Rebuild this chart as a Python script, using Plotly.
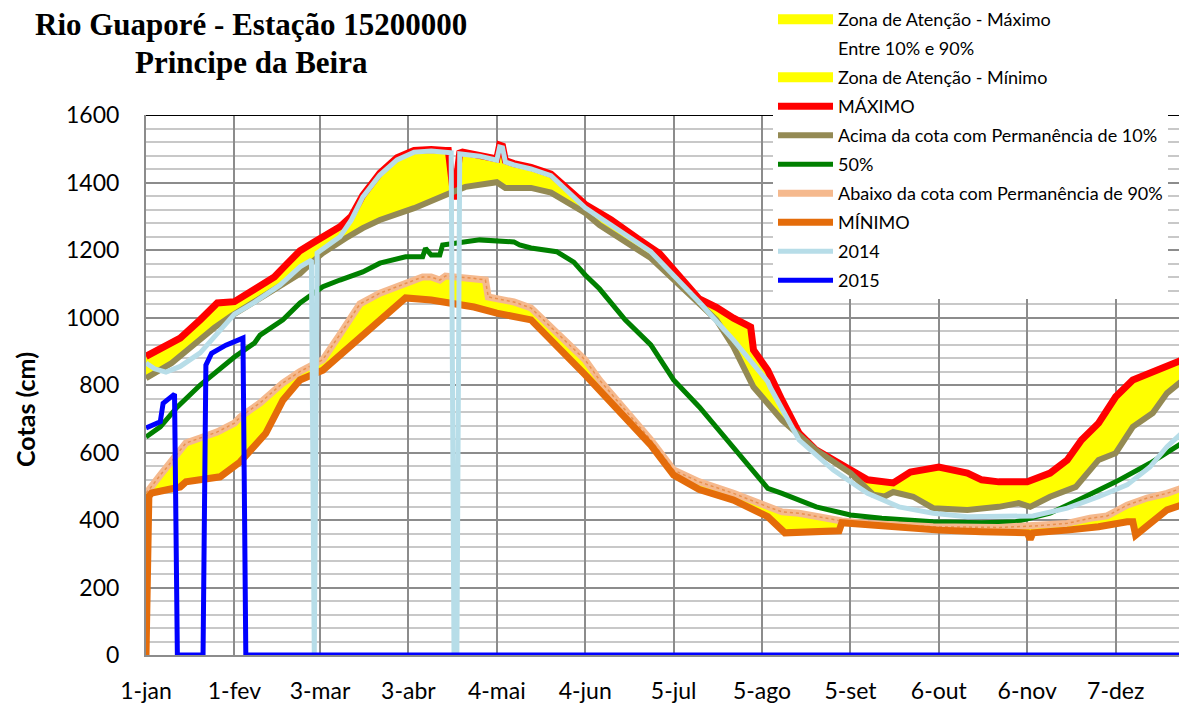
import plotly.graph_objects as go

# ---------------- data (day of year, cota in cm) ----------------
tick_days = [1, 32, 62, 93, 124, 155, 186, 217, 248, 279, 310, 341]
tick_labels = ["1-jan", "1-fev", "3-mar", "3-abr", "4-mai", "4-jun", "5-jul",
               "5-ago", "5-set", "6-out", "6-nov", "7-dez"]

max_days = [1, 13, 20, 26, 32, 39, 46, 50, 55, 60, 69, 73, 77, 83, 89, 95, 101, 106, 107,
            109, 111, 112, 118, 124, 125, 126, 127, 130, 136, 143, 155, 164, 174, 181,
            195, 201, 207, 213, 214, 219, 224, 228, 230, 236, 242, 248, 254, 263, 269,
            279, 289, 294, 300, 310, 318, 324, 329, 335, 341, 347, 359, 366]
max_vals = [885, 939, 993, 1043, 1047, 1081, 1120, 1155, 1198, 1224, 1269, 1300, 1362, 1428,
            1473, 1495, 1498, 1495, 1495, 1350, 1487, 1490, 1482, 1470, 1511, 1508, 1465,
            1456, 1445, 1425, 1335, 1290, 1230, 1190, 1055, 1030, 998, 972, 904, 844, 755,
            687, 657, 607, 578, 548, 519, 510, 542, 557, 539, 519, 513, 513, 539, 578, 637,
            687, 765, 815, 859, 880]

p10_days = [1, 5, 10, 15, 20, 25, 31, 38, 45, 50, 55, 60, 63, 71, 77, 83, 95, 106, 113,
            124, 127, 136, 143, 155, 160, 178, 195, 201, 207, 214, 224, 236, 248, 256, 260,
            263, 270, 277, 289, 300, 307, 311, 318, 327, 335, 341, 347, 354, 359, 366]
p10_vals = [820, 840, 865, 900, 935, 970, 1005, 1040, 1075, 1100, 1130, 1170, 1191, 1235,
            1265, 1289, 1324, 1363, 1387, 1401, 1384, 1384, 1370, 1310, 1274, 1176, 1040,
            993, 913, 794, 696, 607, 539, 475, 470, 483, 469, 435, 430, 439, 450, 439, 469,
            498, 578, 598, 676, 717, 776, 824]

p50_days = [1, 6, 12, 20, 32, 39, 41, 49, 55, 63, 69, 77, 83, 92, 98, 99, 101, 104, 105,
            109, 118, 130, 132, 136, 145, 151, 155, 160, 169, 178, 186, 195, 207, 219, 224,
            236, 248, 259, 277, 294, 306, 318, 329, 341, 353, 366]
p50_vals = [646, 676, 735, 800, 883, 924, 948, 993, 1043, 1091, 1111, 1135, 1161, 1180,
            1180, 1205, 1185, 1185, 1215, 1220, 1230, 1224, 1215, 1206, 1195, 1164, 1126,
            1085, 993, 919, 815, 735, 617, 494, 479, 439, 415, 405, 395, 392, 395, 420, 464,
            513, 568, 637]

p90_days = [1, 2, 6, 9, 13, 15, 20, 26, 32, 34, 41, 49, 55, 63, 69, 76, 83, 92, 98, 101,
            104, 106, 115, 120, 121, 130, 136, 155, 160, 178, 186, 195, 207, 219, 224, 230,
            242, 245, 254, 277, 300, 312, 324, 332, 338, 345, 352, 359, 366]
p90_vals = [480, 489, 533, 563, 607, 628, 643, 661, 687, 705, 747, 806, 840, 875, 950,
            1040, 1072, 1102, 1120, 1120, 1111, 1123, 1117, 1111, 1061, 1046, 1028, 874, 815,
            637, 548, 513, 479, 439, 424, 420, 400, 397, 390, 380, 378, 382, 390, 405, 412,
            444, 465, 479, 500]

min_days = [1, 2, 3, 13, 15, 25, 27, 34, 37, 43, 49, 55, 63, 73, 83, 92, 101, 106, 116,
            124, 136, 155, 160, 178, 186, 195, 207, 219, 225, 236, 244, 245, 254, 265, 279,
            294, 310, 311, 312, 324, 335, 345, 347, 348, 359, 366]
min_vals = [0, 470, 480, 498, 513, 528, 528, 572, 601, 657, 755, 815, 844, 919, 993, 1058,
            1052, 1046, 1031, 1013, 993, 830, 785, 622, 533, 490, 459, 410, 362, 365, 368,
            392, 385, 376, 370, 365, 362, 343, 362, 370, 380, 395, 395, 355, 430, 450]

y2014_days = [1, 4, 8, 13, 20, 32, 39, 48, 55, 59, 60, 61, 69, 73, 77, 83, 89, 95, 101,
              106, 108, 109, 110, 111, 118, 124, 125, 126, 127, 130, 136, 143, 155, 178,
              195, 207, 217, 219, 220, 230, 242, 254, 265, 277, 289, 300, 312, 324, 335,
              345, 353, 359, 366]
y2014_vals = [865, 848, 838, 855, 895, 1010, 1045, 1096, 1150, 1170, 0, 1191, 1239, 1289,
              1357, 1422, 1467, 1490, 1493, 1490, 1488, 0, 0, 1485, 1478, 1466, 1505, 1503,
              1461, 1452, 1440, 1420, 1325, 1195, 1045, 933, 830, 810, 791, 637, 548, 479,
              439, 420, 410, 410, 412, 435, 469, 504, 557, 617, 672]

y2015_days = [1, 6, 7, 10, 11, 12, 21, 22, 24, 29, 35, 36, 366]
y2015_vals = [673, 691, 746, 768, 773, 0, 0, 859, 894, 918, 939, 0, 0]

title_lines = ["Rio Guaporé - Estação 15200000", "Principe da Beira"]

for a, b in [(max_days, max_vals), (p10_days, p10_vals), (p50_days, p50_vals),
             (p90_days, p90_vals), (min_days, min_vals), (y2014_days, y2014_vals),
             (y2015_days, y2015_vals)]:
    assert len(a) == len(b), (len(a), len(b))

# ---------------- styles ----------------
YELLOW = "#FFFF00"
RED = "#FF0000"
OLIVE = "#948A54"
GREEN = "#008000"
P90C = "#F5B98E"
P90DOT = "#E8914F"
MINC = "#E46C0A"
LBLUE = "#B7DDE8"
BLUE = "#0000FF"

# page body has an 8px margin: figure is sized/positioned to compensate
FIG_W, FIG_H = 1179, 695
L, T, B = 138, 107, 48
PW = FIG_W - L
PH = FIG_H - T - B


def px_x(x):
    return (x - 8 - L) / PW


def px_y(y):
    return (FIG_H - B - (y - 8)) / PH


fig = go.Figure()

# legend-only entries for the zones
fig.add_trace(go.Scatter(x=[None], y=[None], mode="lines", name="Zona de Atenção - Máximo",
                         line=dict(color=YELLOW, width=11), legendgroup="a"))
fig.add_trace(go.Scatter(x=[None], y=[None], mode="lines", name="Entre 10% e 90%",
                         line=dict(color="rgba(0,0,0,0)", width=1), legendgroup="b"))
fig.add_trace(go.Scatter(x=[None], y=[None], mode="lines", name="Zona de Atenção - Mínimo",
                         line=dict(color=YELLOW, width=11), legendgroup="c"))

# filled zones
fig.add_trace(go.Scatter(x=p10_days, y=p10_vals, mode="lines", line=dict(width=0),
                         showlegend=False, hoverinfo="skip", legendgroup="a"))
fig.add_trace(go.Scatter(x=max_days, y=max_vals, mode="lines", line=dict(width=0),
                         fill="tonexty", fillcolor=YELLOW, showlegend=False,
                         hoverinfo="skip", legendgroup="a"))
fig.add_trace(go.Scatter(x=min_days, y=min_vals, mode="lines", line=dict(width=0),
                         showlegend=False, hoverinfo="skip", legendgroup="c"))
fig.add_trace(go.Scatter(x=p90_days, y=p90_vals, mode="lines", line=dict(width=0),
                         fill="tonexty", fillcolor=YELLOW, showlegend=False,
                         hoverinfo="skip", legendgroup="c"))

# lines
fig.add_trace(go.Scatter(x=max_days, y=max_vals, mode="lines", name="MÁXIMO",
                         line=dict(color=RED, width=7), legendgroup="d"))
fig.add_trace(go.Scatter(x=p10_days, y=p10_vals, mode="lines",
                         name="Acima da cota com Permanência de 10%",
                         line=dict(color=OLIVE, width=6), legendgroup="e"))
fig.add_trace(go.Scatter(x=p50_days, y=p50_vals, mode="lines", name="50%",
                         line=dict(color=GREEN, width=5), legendgroup="f"))
fig.add_trace(go.Scatter(x=p90_days, y=p90_vals, mode="lines",
                         name="Abaixo da cota com Permanência de 90%",
                         line=dict(color=P90C, width=7), legendgroup="g"))
fig.add_trace(go.Scatter(x=p90_days, y=p90_vals, mode="lines", showlegend=False,
                         line=dict(color=P90DOT, width=1.5, dash="dot"), legendgroup="g"))
fig.add_trace(go.Scatter(x=min_days, y=min_vals, mode="lines", name="MÍNIMO",
                         line=dict(color=MINC, width=7), legendgroup="h"))
fig.add_trace(go.Scatter(x=y2014_days, y=y2014_vals, mode="lines", name="2014",
                         line=dict(color=LBLUE, width=5), legendgroup="i"))
fig.add_trace(go.Scatter(x=y2015_days, y=y2015_vals, mode="lines", name="2015",
                         line=dict(color=BLUE, width=5), legendgroup="j"))

title_font = dict(family="Liberation Serif", size=31, color="black")

fig.update_layout(
    width=FIG_W, height=FIG_H,
    margin=dict(l=L, r=0, t=T, b=B, autoexpand=False),
    paper_bgcolor="white", plot_bgcolor="white",
    showlegend=True,
    legend=dict(x=px_x(773), y=px_y(1), xanchor="left", yanchor="top", bgcolor="white",
                font=dict(family="Lato", size=18, color="black"),
                traceorder="grouped", tracegroupgap=2.6, itemwidth=55),
    xaxis=dict(range=[1, 366], tickmode="array", tickvals=tick_days, ticktext=tick_labels,
               showgrid=True, gridcolor="#8C8C8C", gridwidth=2,
               showline=True, linecolor="#8C8C8C", linewidth=2, zeroline=False,
               ticks="", ticklabelstandoff=14,
               tickfont=dict(family="Lato", size=23, color="black")),
    yaxis=dict(range=[0, 1600], tickmode="linear", tick0=0, dtick=200,
               showgrid=True, gridcolor="#8C8C8C", gridwidth=2,
               minor=dict(dtick=40, showgrid=True, gridcolor="#C8C8C8", gridwidth=2),
               showline=True, linecolor="#8C8C8C", linewidth=2, zeroline=False,
               ticks="", ticklabelstandoff=20,
               tickfont=dict(family="Lato", size=23, color="black")),
    shapes=[dict(type="line", xref="paper", yref="y", x0=0, x1=1, y0=1600, y1=1600,
                 line=dict(color="black", width=2), layer="above")],
    annotations=[
        dict(text="<b>" + title_lines[0] + "</b>",
             xref="paper", yref="paper", x=px_x(251), y=px_y(25),
             xanchor="center", yanchor="middle", showarrow=False, font=title_font),
        dict(text="<b>" + title_lines[1] + "</b>",
             xref="paper", yref="paper", x=px_x(251), y=px_y(63),
             xanchor="center", yanchor="middle", showarrow=False, font=title_font),
        dict(text="<b>Cotas (cm)</b>", xref="paper", yref="paper",
             x=px_x(25), y=px_y(410), textangle=-90,
             xanchor="center", yanchor="middle", showarrow=False,
             font=dict(family="Lato", size=25, color="black")),
    ],
)

fig.write_html("out.html")
